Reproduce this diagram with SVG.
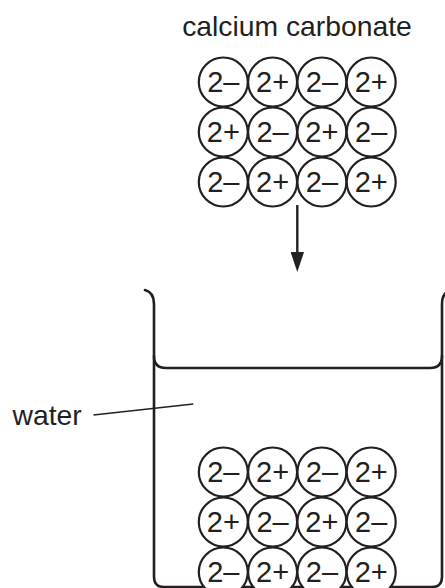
<svg xmlns="http://www.w3.org/2000/svg" width="445" height="588" viewBox="0 0 445 588">
<style>
text{font-family:"Liberation Sans",Arial,sans-serif;fill:#231f20}
.ion{fill:#fff;stroke:#231f20;stroke-width:2.2}
.t{font-size:29px;text-anchor:middle}
.lbl{font-size:28.3px}
.wall{fill:none;stroke:#231f20;stroke-width:2.6;stroke-linecap:round}
.conn{fill:none;stroke:#231f20}
</style>
<defs>
<g id="neg"><circle class="ion" r="24.5"/><text class="t" y="10.3">2–</text></g>
<g id="pos"><circle class="ion" r="24.5"/><text class="t" y="10.3">2+</text></g>
<marker id="ah" markerWidth="20" markerHeight="13.4" refX="0" refY="6.7" orient="auto" markerUnits="userSpaceOnUse" viewBox="0 0 20 13.4">
<path d="M0,0 L20,6.7 L0,13.4 Z" fill="#231f20"/>
</marker>
</defs>
<g id="label-calcium-carbonate">
<text class="lbl" x="297" y="36" text-anchor="middle">calcium carbonate</text>
</g>
<g id="solid-lattice">
<use href="#neg" x="223.3" y="82"/><use href="#pos" x="272.6" y="82"/><use href="#neg" x="321.9" y="82"/><use href="#pos" x="371.2" y="82"/>
<use href="#pos" x="223.3" y="132"/><use href="#neg" x="272.6" y="132"/><use href="#pos" x="321.9" y="132"/><use href="#neg" x="371.2" y="132"/>
<use href="#neg" x="223.3" y="182"/><use href="#pos" x="272.6" y="182"/><use href="#neg" x="321.9" y="182"/><use href="#pos" x="371.2" y="182"/>
</g>
<g id="beaker">
<path class="wall" d="M145,290 C151,291.5 154,296 154,304 L154,577 Q154,587 164,587 L432,587 Q442,587 442,577 L442,304 C442,296 445,291.5 451,290"/>
<path class="wall" d="M154,356 Q154,368 166,368 L430,368 Q442,368 442,356"/>
</g>
<g id="label-water">
<text class="lbl" x="12.5" y="425">water</text>
</g>
<g id="lattice-in-water">
<use href="#neg" x="223.3" y="472"/><use href="#pos" x="272.6" y="472"/><use href="#neg" x="321.9" y="472"/><use href="#pos" x="371.2" y="472"/>
<use href="#pos" x="223.3" y="522"/><use href="#neg" x="272.6" y="522"/><use href="#pos" x="321.9" y="522"/><use href="#neg" x="371.2" y="522"/>
<use href="#neg" x="223.3" y="572"/><use href="#pos" x="272.6" y="572"/><use href="#neg" x="321.9" y="572"/><use href="#pos" x="371.2" y="572"/>
</g>
<g id="connectors">
<line class="conn" x1="297.3" y1="205" x2="297.3" y2="252" stroke-width="2.4" marker-end="url(#ah)"/>
<line class="conn" x1="93.5" y1="415" x2="193.3" y2="404" stroke-width="1.3"/>
</g>
</svg>
